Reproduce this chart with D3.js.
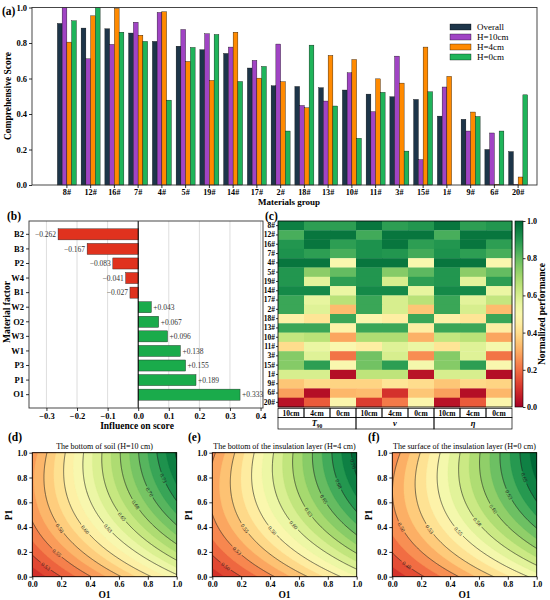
<!DOCTYPE html>
<html><head><meta charset="utf-8">
<script src="https://cdn.jsdelivr.net/npm/d3@7/dist/d3.min.js"></script>
<style>body{margin:0;background:#fff}svg{font-family:"Liberation Serif","Times New Roman",serif}</style>
</head><body><svg id="c" width="550" height="600"></svg>
<script>
// ---------------- DATA ----------------
const groups = ["8#","12#","16#","7#","4#","5#","19#","14#","17#","2#","18#","13#","10#","11#","3#","15#","1#","9#","6#","20#"];
const seriesNames = ["Overall","H=10cm","H=4cm","H=0cm"];
const overall = [0.910,0.884,0.880,0.856,0.809,0.782,0.762,0.741,0.659,0.559,0.555,0.548,0.535,0.512,0.497,0.482,0.388,0.370,0.200,0.188];
const h10     = [1.000,0.711,0.792,0.917,0.972,0.876,0.852,0.777,0.702,0.794,0.448,0.473,0.632,0.413,0.726,0.143,0.552,0.304,0.293,0.003];
const h4      = [0.805,0.953,0.995,0.844,0.976,0.696,0.589,0.861,0.602,0.582,0.435,0.730,0.707,0.598,0.574,0.777,0.612,0.411,0.004,0.045];
const h0      = [0.925,1.000,0.861,0.809,0.478,0.775,0.848,0.583,0.668,0.304,0.788,0.445,0.263,0.522,0.191,0.525,0.000,0.386,0.304,0.508];
const scoreTicks = [0,0.2,0.4,0.6,0.8,1.0];

const factors   = ["B2","B3","P2","W4","B1","W2","O2","W3","W1","P3","P1","O1"];
const influence = [-0.262,-0.167,-0.083,-0.041,-0.027,0.043,0.067,0.096,0.138,0.155,0.189,0.333];
const influenceTicks = [-0.3,-0.2,-0.1,0,0.1,0.2,0.3,0.4];

const heatColumns = ["10cm","4cm","0cm","10cm","4cm","0cm","10cm","4cm","0cm"];
const heatGroups  = ["T","ν","η"];
const heatValues = [
 [0.95,0.88,0.88,0.97,0.88,0.90,0.97,0.88,0.90],
 [0.84,0.97,0.97,0.85,0.97,0.97,0.84,0.97,0.97],
 [0.90,0.97,0.88,0.91,0.97,0.88,0.90,0.97,0.88],
 [0.91,0.88,0.84,0.91,0.90,0.85,0.91,0.88,0.84],
 [0.97,0.97,0.50,0.97,0.97,0.50,0.97,0.97,0.50],
 [0.90,0.74,0.80,0.90,0.75,0.81,0.90,0.74,0.80],
 [0.90,0.57,0.88,0.90,0.60,0.88,0.90,0.57,0.88],
 [0.93,0.93,0.55,0.93,0.93,0.56,0.93,0.93,0.55],
 [0.86,0.56,0.66,0.86,0.60,0.66,0.86,0.57,0.64],
 [0.86,0.58,0.33,0.86,0.60,0.35,0.86,0.60,0.33],
 [0.46,0.42,0.86,0.48,0.45,0.86,0.46,0.42,0.86],
 [0.86,0.86,0.47,0.86,0.86,0.45,0.86,0.86,0.45],
 [0.64,0.66,0.29,0.68,0.68,0.31,0.64,0.66,0.29],
 [0.40,0.55,0.50,0.45,0.58,0.55,0.42,0.58,0.52],
 [0.75,0.58,0.21,0.78,0.60,0.25,0.75,0.58,0.21],
 [0.75,0.88,0.50,0.78,0.88,0.52,0.75,0.88,0.50],
 [0.60,0.60,0.03,0.65,0.65,0.04,0.60,0.60,0.03],
 [0.35,0.39,0.38,0.38,0.42,0.40,0.35,0.39,0.38],
 [0.28,0.03,0.32,0.33,0.10,0.35,0.28,0.03,0.32],
 [0.04,0.17,0.48,0.12,0.22,0.48,0.04,0.17,0.48]
];
const colorbarTicks = [0,0.2,0.4,0.6,0.8,1.0];

// quadratic response-surface coefficients [b0, bO1, bP1, bO1², bP1², bO1·P1]
const surfaceD = [0.501,0.120,0.155,0,-0.101,0.077];
const surfaceE = [0.478,0.109,0.144,0,-0.101,0.077];
const surfaceF = [0.452,0.104,0.139,0,-0.101,0.077];
const surfaceTitles = ["The bottom of soil (H=10 cm)","The bottom of the insulation layer (H=4 cm)","The surface of the insulation layer (H=0 cm)"];
const unitTicks = [0,0.2,0.4,0.6,0.8,1.0];

// ---------------- DRAW ----------------
const svg = d3.select("#c");
const tickFont = 8.5;
const f1 = d3.format(".1f");
function styleAxis(g, size){
  g.selectAll("path.domain").remove();
  g.selectAll("line").attr("stroke","#000").attr("stroke-width",0.8);
  g.selectAll("text").attr("font-family",'"Liberation Serif",serif').attr("font-weight","bold").attr("font-size",size||tickFont).attr("fill","#000");
}
function panelLabel(x,y,t){ svg.append("text").attr("x",x).attr("y",y).attr("font-weight","bold").attr("font-size",11.5).text(t); }

// ---- (a)
{
  const L=32,R=537,T=7.5,B=185;
  const x = d3.scaleBand().domain(groups).range([55,530]).paddingInner(0.2).paddingOuter(0.1);
  const xs = d3.scaleBand().domain(seriesNames).range([0,x.bandwidth()]);
  const y = d3.scaleLinear().domain([0,1]).range([B,T]);
  const colors = ["#1d3549","#a044c4","#ff8a00","#1fb45a"];
  const all = [overall,h10,h4,h0];
  const g = svg.append("g");
  all.forEach((vals,si)=>{
    g.selectAll(null).data(vals).join("rect")
      .attr("x",(d,i)=>x(groups[i])+xs(seriesNames[si]))
      .attr("y",d=>y(d)).attr("width",xs.bandwidth()).attr("height",d=>B-y(d))
      .attr("fill",colors[si]).attr("stroke","#000").attr("stroke-width",0.35);
  });
  svg.append("rect").attr("x",L).attr("y",T).attr("width",R-L).attr("height",B-T).attr("fill","none").attr("stroke","#333").attr("stroke-width",0.9);
  svg.append("g").attr("transform",`translate(0,${B})`).call(d3.axisBottom(x).tickSize(3).tickPadding(1.5)).call(styleAxis,8.2);
  svg.append("g").attr("transform",`translate(${L},0)`).call(d3.axisLeft(y).tickValues(scoreTicks).tickFormat(f1).tickSize(3).tickPadding(2)).call(styleAxis);
  svg.append("text").attr("transform","translate(11,96) rotate(-90)").attr("text-anchor","middle").attr("font-weight","bold").attr("font-size",9.5).text("Comprehensive Score");
  svg.append("text").attr("x",289).attr("y",205).attr("text-anchor","middle").attr("font-weight","bold").attr("font-size",9).text("Materials group");
  const lg = svg.append("g").attr("transform","translate(450,24)");
  seriesNames.forEach((s,i)=>{
    lg.append("rect").attr("x",0).attr("y",i*10).attr("width",21).attr("height",6).attr("fill",colors[i]).attr("stroke","#000").attr("stroke-width",0.35);
    lg.append("text").attr("x",27).attr("y",i*10+6).attr("font-size",9).text(s);
  });
  panelLabel(2,15,"(a)");
}

// ---- (b)
{
  const L=29,R=263,T=221,B=408;
  const x = d3.scaleLinear().domain([-0.357,0.408]).range([L,R]);
  const y = d3.scaleBand().domain(factors).range([T,B]).paddingInner(0.24).paddingOuter(0.535);
  const g = svg.append("g");
  g.selectAll(null).data(influenceTicks).join("line")
    .attr("x1",d=>x(d)).attr("x2",d=>x(d)).attr("y1",T).attr("y2",B).attr("stroke","#d4d4d4").attr("stroke-width",0.8);
  g.selectAll(null).data(influence).join("rect")
    .attr("x",d=>Math.min(x(0),x(d))).attr("width",d=>Math.abs(x(d)-x(0)))
    .attr("y",(d,i)=>y(factors[i])).attr("height",y.bandwidth())
    .attr("fill",d=>d<0?"#e0321e":"#1aab4b").attr("stroke","#222").attr("stroke-width",0.4);
  g.selectAll(null).data(influence).join("text")
    .attr("x",d=>d<0?x(d)-2:x(d)+2).attr("y",(d,i)=>y(factors[i])+y.bandwidth()/2+2.8)
    .attr("text-anchor",d=>d<0?"end":"start").attr("font-size",7.5).attr("fill","#333")
    .text(d=>(d<0?"\u2212":"+")+Math.abs(d).toFixed(3));
  g.append("line").attr("x1",x(0)).attr("x2",x(0)).attr("y1",T).attr("y2",B).attr("stroke","#000").attr("stroke-width",1);
  svg.append("rect").attr("x",L).attr("y",T).attr("width",R-L).attr("height",B-T).attr("fill","none").attr("stroke","#333").attr("stroke-width",0.9);
  svg.append("g").attr("transform",`translate(0,${B})`).call(d3.axisBottom(x).tickValues(influenceTicks).tickFormat(f1).tickSize(3).tickPadding(2)).call(styleAxis);
  svg.append("g").attr("transform",`translate(${L},0)`).call(d3.axisLeft(y).tickSize(3).tickPadding(2)).call(styleAxis);
  svg.append("text").attr("x",137).attr("y",428.5).attr("text-anchor","middle").attr("font-weight","bold").attr("font-size",9.5).text("Influence on score");
  svg.append("text").attr("transform","translate(9.5,312) rotate(-90)").attr("text-anchor","middle").attr("font-weight","bold").attr("font-size",9.5).text("Material factor");
  panelLabel(7,220,"(b)");
}

// ---- (c)
{
  const L=278,R=512,T=221,B=407;
  const x = d3.scaleBand().domain(d3.range(heatColumns.length)).range([L,R]);
  const y = d3.scaleBand().domain(groups).range([T,B]);
  const color = d3.scaleSequential(d3.interpolateRdYlGn).domain([0,1]);
  const g = svg.append("g");
  heatValues.forEach((row,ri)=>{
    g.selectAll(null).data(row).join("rect")
      .attr("x",(d,ci)=>x(ci)).attr("y",y(groups[ri])).attr("width",x.bandwidth()+0.3).attr("height",y.bandwidth()+0.3)
      .attr("fill",d=>color(d));
  });
  svg.append("rect").attr("x",L).attr("y",T).attr("width",R-L).attr("height",B-T).attr("fill","none").attr("stroke","#000").attr("stroke-width",0.8);
  svg.append("g").attr("transform",`translate(${L},0)`).call(d3.axisLeft(y).tickSize(2).tickPadding(1)).call(styleAxis,7.5);
  const cb = d3.scaleLinear().domain([0,1]).range([B,T]);
  const defs = svg.append("defs");
  const grad = defs.append("linearGradient").attr("id","cbg").attr("x1",0).attr("y1",1).attr("x2",0).attr("y2",0);
  d3.range(0,1.0001,0.05).forEach(t=>grad.append("stop").attr("offset",t).attr("stop-color",color(t)));
  svg.append("rect").attr("x",515).attr("y",T).attr("width",8).attr("height",B-T).attr("fill","url(#cbg)").attr("stroke","#000").attr("stroke-width",0.6);
  svg.append("g").attr("transform","translate(523,0)").call(d3.axisRight(cb).tickValues(colorbarTicks).tickFormat(f1).tickSize(2.5).tickPadding(1.5)).call(styleAxis,8);
  svg.append("text").attr("transform","translate(545,314) rotate(-90)").attr("text-anchor","middle").attr("font-weight","bold").attr("font-size",9.5).text("Normalized performance");
  const t1=408.3, t2=417.5, t3=429;
  const tg = svg.append("g");
  heatColumns.forEach((c,ci)=>{
    tg.append("rect").attr("x",x(ci)).attr("y",t1).attr("width",x.bandwidth()).attr("height",t2-t1).attr("fill","none").attr("stroke","#000").attr("stroke-width",0.7);
    tg.append("text").attr("x",x(ci)+x.bandwidth()/2).attr("y",t2-2).attr("text-anchor","middle").attr("font-weight","bold").attr("font-size",7.5).text(c);
  });
  heatGroups.forEach((gname,gi)=>{
    const x0 = x(gi*3), w = x.bandwidth()*3;
    tg.append("rect").attr("x",x0).attr("y",t2).attr("width",w).attr("height",t3-t2).attr("fill","none").attr("stroke","#000").attr("stroke-width",0.7);
    const tx = tg.append("text").attr("x",x0+w/2).attr("y",t3-3).attr("text-anchor","middle").attr("font-weight","bold").attr("font-style","italic").attr("font-size",8.5);
    tx.append("tspan").text(gname);
    if(gi===0) tx.append("tspan").attr("font-size",5.5).attr("dy",1.5).attr("font-style","normal").text("90");
  });
  panelLabel(265,219.5,"(c)");
}

// ---- (d)(e)(f)
function surf(p,x,y){ return p[0] + p[1]*x + p[2]*y + p[3]*x*x + p[4]*y*y + p[5]*x*y; }
const letters = ["(d)","(e)","(f)"];
[surfaceD,surfaceE,surfaceF].forEach((params,k)=>{
  const X0 = 32.3 + k*180, W = 144.4, TOP = 452.7, BOT = 576.7;
  const sx = d3.scaleLinear().domain([0,1]).range([X0,X0+W]);
  const sy = d3.scaleLinear().domain([0,1]).range([BOT,TOP]);
  const n = 121;
  const vals = new Array(n*n);
  for(let j=0;j<n;j++) for(let i=0;i<n;i++) vals[i+j*n] = surf(params,i/(n-1),j/(n-1));
  const [zmin,zmax] = d3.extent(vals);
  const fs = 0.0125;
  const i0 = Math.floor(zmin/fs+1e-9), i1 = Math.ceil(zmax/fs-1e-9);
  const fillLevels = d3.range(i0,i1).map(i=>i*fs);
  const hi = i1*fs - fs/2, lo = zmin - 0.08*(zmax-zmin);
  const cmap = t=>d3.interpolateRdYlGn(Math.max(0,Math.min(1,t)));
  const proj = d3.geoTransform({point(px,py){ this.stream.point(sx((px-0.5)/(n-1)), sy((py-0.5)/(n-1))); }});
  const path = d3.geoPath(proj);
  const clipId = "clip"+k, maskId = "mask"+k;
  const defs = svg.append("defs");
  defs.append("clipPath").attr("id",clipId).append("rect").attr("x",X0).attr("y",TOP).attr("width",W).attr("height",BOT-TOP);
  const g = svg.append("g").attr("clip-path",`url(#${clipId})`);
  const fills = d3.contours().size([n,n]).thresholds(fillLevels)(vals);
  const bandColor = d=>cmap((Math.max(d.value,zmin)+fs/2-lo)/(hi-lo));
  g.selectAll(null).data(fills).join("path").attr("d",path)
    .attr("fill",bandColor).attr("stroke",bandColor).attr("stroke-width",0.3);
  const ls = 0.025;
  const lineLevels = d3.range(Math.floor(zmin/ls)+1, Math.ceil(zmax/ls)).map(i=>i*ls).filter(v=>v>zmin+1e-6 && v<zmax-1e-6);
  const lines = d3.contours().size([n,n]).thresholds(lineLevels)(vals);
  const toPx = p=>[sx((p[0]-0.5)/(n-1)), sy((p[1]-0.5)/(n-1))];
  const inside = p=>p[0]>1e-6 && p[0]<n-1e-6 && p[1]>1e-6 && p[1]<n-1e-6;
  const mask = defs.append("mask").attr("id",maskId).attr("maskUnits","userSpaceOnUse").attr("x",X0-5).attr("y",TOP-5).attr("width",W+10).attr("height",BOT-TOP+10);
  mask.append("rect").attr("x",X0-5).attr("y",TOP-5).attr("width",W+10).attr("height",BOT-TOP+10).attr("fill","#fff");
  const lg = g.append("g").attr("mask",`url(#${maskId})`);
  const labG = g.append("g");
  const lineGen = d3.line();
  lines.forEach(mp=>{
    const runs=[];
    mp.coordinates.forEach(poly=>poly.forEach(ring=>{
      const pts = ring.slice(0,-1);
      if(pts.every(inside)){ runs.push(ring.map(toPx)); return; }
      const s = pts.findIndex(p=>!inside(p));
      const rot = pts.slice(s).concat(pts.slice(0,s)).concat([pts[s]]);
      let cur=null;
      for(let q=0;q<rot.length;q++){
        const p=rot[q];
        if(inside(p)){ if(!cur) cur=[rot[q-1]]; cur.push(p); }
        else if(cur){ cur.push(p); runs.push(cur.map(toPx)); cur=null; }
      }
    }));
    let best=null,bestLen=0;
    runs.forEach(r=>{
      lg.append("path").attr("d",lineGen(r)).attr("fill","none").attr("stroke","#222").attr("stroke-width",0.6);
      let len=0; for(let q=1;q<r.length;q++) len+=Math.hypot(r[q][0]-r[q-1][0],r[q][1]-r[q-1][1]);
      if(len>bestLen){bestLen=len;best=r;}
    });
    if(best && bestLen>20){
      let half=bestLen/2, acc=0, q=1;
      for(;q<best.length;q++){ const dl=Math.hypot(best[q][0]-best[q-1][0],best[q][1]-best[q-1][1]); if(acc+dl>=half) break; acc+=dl; }
      const a=best[Math.max(0,q-3)], b=best[Math.min(best.length-1,q+2)];
      const m=best[Math.min(q,best.length-1)];
      let ang=Math.atan2(b[1]-a[1],b[0]-a[0])*180/Math.PI;
      if(ang>90) ang-=180; if(ang<-90) ang+=180;
      const txt = mp.value.toFixed(2);
      const fsz=5.5, tw=txt.length*fsz*0.5+2;
      mask.append("rect").attr("x",-tw/2).attr("y",-fsz*0.55).attr("width",tw).attr("height",fsz*1.1).attr("fill","#000")
        .attr("transform",`translate(${m[0]},${m[1]}) rotate(${ang})`);
      labG.append("text").attr("transform",`translate(${m[0]},${m[1]}) rotate(${ang})`).attr("text-anchor","middle").attr("dy","0.35em")
        .attr("font-size",fsz).attr("fill","#222").text(txt);
    }
  });
  svg.append("rect").attr("x",X0).attr("y",TOP).attr("width",W).attr("height",BOT-TOP).attr("fill","none").attr("stroke","#000").attr("stroke-width",0.9);
  svg.append("g").attr("transform",`translate(0,${BOT})`).call(d3.axisBottom(sx).tickValues(unitTicks).tickFormat(f1).tickSize(3).tickPadding(2)).call(styleAxis,8);
  svg.append("g").attr("transform",`translate(${X0},0)`).call(d3.axisLeft(sy).tickValues(unitTicks).tickFormat(f1).tickSize(3).tickPadding(2)).call(styleAxis,8);
  svg.append("text").attr("x",X0+W/2).attr("y",449).attr("text-anchor","middle").attr("font-size",8).text(surfaceTitles[k]);
  svg.append("text").attr("x",X0+W/2).attr("y",597.5).attr("text-anchor","middle").attr("font-weight","bold").attr("font-size",9.5).text("O1");
  svg.append("text").attr("transform",`translate(${X0-20},515) rotate(-90)`).attr("text-anchor","middle").attr("font-weight","bold").attr("font-size",9.5).text("P1");
  panelLabel(X0-24.3,441,letters[k]);
});
</script></body></html>
